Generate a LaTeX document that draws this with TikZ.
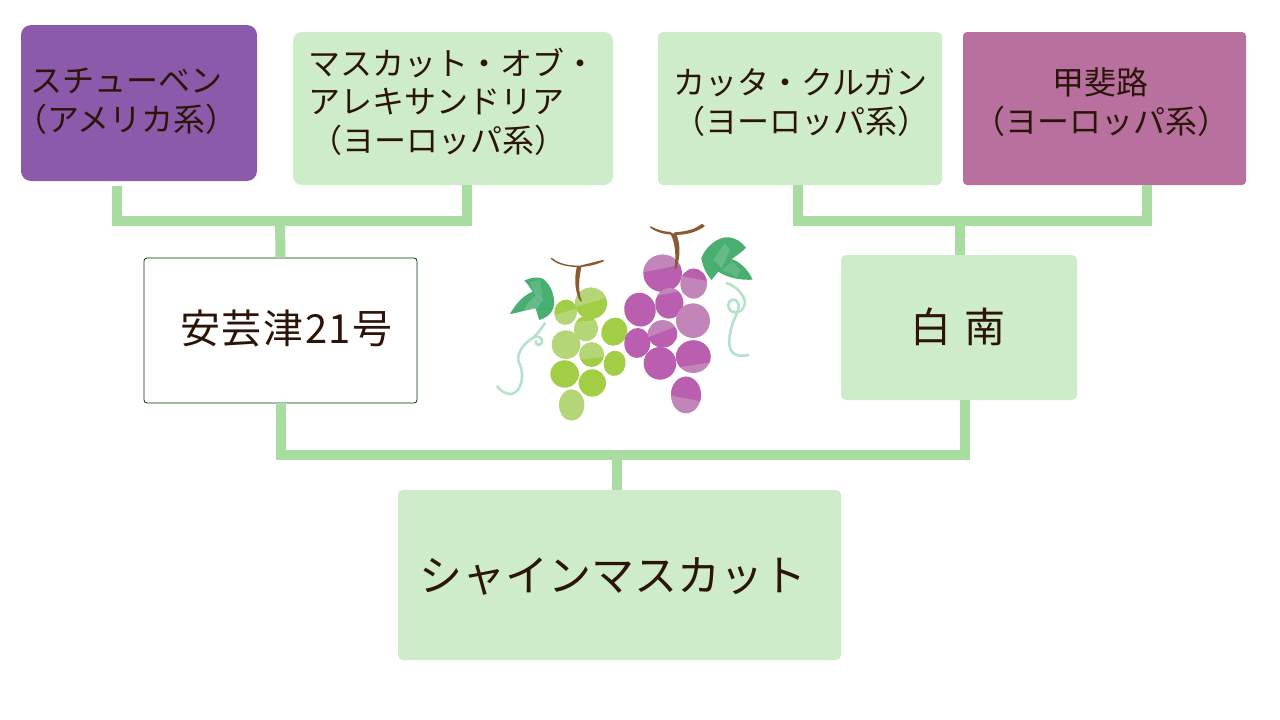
\documentclass[tikz,border=0pt]{standalone}
\usepackage{fontspec}
\setmainfont{Noto Sans CJK JP}
\usetikzlibrary{calc}
\definecolor{ink}{HTML}{2B1408}
\definecolor{mint}{HTML}{CFECCA}
\definecolor{violetbox}{HTML}{8C5AAA}
\definecolor{rosebox}{HTML}{B8719F}
\definecolor{linkgreen}{HTML}{A8DCA0}
\definecolor{leafgreen}{HTML}{48AF70}
\definecolor{leaflight}{HTML}{72C093}
\definecolor{stembrown}{HTML}{8A5A32}
\definecolor{tendril}{HTML}{B4E2CA}
\definecolor{grA}{HTML}{A2CE45}
\definecolor{grB}{HTML}{B4D676}
\definecolor{puA}{HTML}{BA5FB0}
\definecolor{puB}{HTML}{C285B9}
% Centres a block of text in its box, then moves it by (dx, dy) px
\newcommand{\offsettext}[3]{\raisebox{#2pt}[0pt][0pt]{\makebox[0pt]{\hspace*{#1pt}\hspace*{#1pt}\begin{tabular}{@{}l@{}}#3\end{tabular}}}}
% One grape: cx, cy, rx, ry, rotation, body colour, cap colour, cap edge y, edge slope
\newcommand{\grape}[9]{%
  \begin{scope}
    \clip[rotate around={#5:(#1,#2)}] (#1,#2) ellipse [x radius=#3, y radius=#4];
    \fill[#6] (#1-60,#2-60) rectangle (#1+60,#2+60);
    \fill[#7] (#1-60,#8-60*#9) -- (#1+60,#8+60*#9) -- (#1+60,#2-70) -- (#1-60,#2-70) -- cycle;
  \end{scope}}
\tikzset{
  x=1pt, y=-1pt,
  boxbase/.style={inner sep=0pt, text=ink},
  mintbox/.style={boxbase, fill=mint, rounded corners=5pt},
  purplebox/.style={boxbase, fill=violetbox, rounded corners=10pt},
  pinkbox/.style={boxbase, fill=rosebox, rounded corners=4pt},
  whitebox/.style={boxbase, fill=white, draw=black!80!green, line width=0.8pt, rounded corners=3pt},
  link/.style={draw=linkgreen, line width=10pt, line cap=butt, line join=miter},
  curlline/.style={draw=tendril, line width=2.6pt, line cap=round, fill=none},
  stemfill/.style={fill=stembrown, draw=stembrown, line width=1.4pt, line join=round}
}
\begin{document}
\begin{tikzpicture}
\useasboundingbox (0,0) rectangle (1280,720);
\fill[white] (0,0) rectangle (1280,720);

% Junctions of the family tree
\coordinate (leftjoin) at (280,221);
\coordinate (rightjoin) at (960,221);
\coordinate (lowjoin) at (617,455);

% Boxes
\node[purplebox, minimum width=236pt, minimum height=156pt] (steuben) at (139,103)
  {\fontsize{32}{38}\selectfont\offsettext{-12.5}{-8}{\hspace*{15pt}スチューベン\\（アメリカ系）}};
\node[mintbox, rounded corners=9pt, minimum width=320pt, minimum height=153pt] (muscat) at (453,108.5)
  {\fontsize{32}{38}\selectfont\offsettext{-1}{-4}{マスカット・オブ・\\アレキサンドリア\\\hspace*{2pt}（ヨーロッパ系）}};
\node[mintbox, minimum width=284pt, minimum height=153pt] (kattakurgan) at (800,108.5)
  {\fontsize{32}{37}\selectfont\offsettext{1.5}{-4}{カッタ・クルガン\\（ヨーロッパ系）}};
\node[pinkbox, minimum width=283pt, minimum height=153pt] (kaiji) at (1104.5,108.5)
  {\fontsize{32}{38}\selectfont\offsettext{-3}{-4}{\hspace*{79pt}甲斐路\\（ヨーロッパ系）}};
\node[whitebox, minimum width=273pt, minimum height=145pt] (akitsu) at (280.5,330.5)
  {\fontsize{40}{46}\selectfont\addfontfeature{LetterSpace=4}\offsettext{6}{-9}{安芸津21号}};
\node[mintbox, minimum width=236pt, minimum height=145pt] (hakunan) at (959,327.5)
  {\fontsize{41}{46}\selectfont\offsettext{-1}{-11}{白\hspace{14pt}南}};
\node[mintbox, minimum width=443pt, minimum height=170pt] (shine) at (619.5,575)
  {\fontsize{43}{50}\selectfont\offsettext{-7}{-13}{シャインマスカット}};

% Connectors
\draw[link] ([shift={(-22,5)}]steuben.south) |- (leftjoin) -| ([xshift=14pt]muscat.south);
\draw[link] (leftjoin) -- (akitsu.north);
\draw[link] ([xshift=-2pt]kattakurgan.south) |- (rightjoin) -| ([xshift=42.5pt]kaiji.south);
\draw[link] (rightjoin) -- (rightjoin |- hakunan.north);
\draw[link] (akitsu.south) |- (lowjoin) -| ([xshift=6pt]hakunan.south);
\draw[link] (lowjoin) -- (lowjoin |- shine.north);

% Bunches of grapes
\begin{scope}[shift={(480,215)}, x=0.3333pt, y=-0.3333pt]
  % green bunch
  \grape{333}{265}{48}{47}{0}{grA}{grB}{262}{-0.3}
  \grape{257}{292}{34}{38}{-10}{grB}{grA}{290}{-0.3}
  \grape{318}{341}{36}{38}{-10}{grB}{grA}{318}{-0.1}
  \grape{403}{350}{38}{43}{-25}{grA}{grA}{300}{0}
  \grape{258}{389}{43}{43}{0}{grB}{grB}{300}{0}
  \grape{335}{419}{37}{37}{0}{grA}{grB}{430}{-0.1}
  \grape{404}{445}{33}{38}{-10}{grA}{grA}{400}{0}
  \grape{254}{477}{43}{41}{0}{grA}{grA}{400}{0}
  \grape{337}{504}{41}{41}{0}{grA}{grA}{450}{0}
  \grape{275}{570}{38}{47}{0}{grB}{grB}{500}{0}
  % purple bunch
  \grape{548}{175}{58}{56}{0}{puA}{puB}{160}{-0.2}
  \grape{641}{206}{40}{45}{0}{puB}{puA}{190}{0.2}
  \grape{480}{284}{47}{51}{15}{puA}{puA}{200}{0}
  \grape{568}{265}{42}{46}{-10}{puA}{puB}{235}{-0.2}
  \grape{639}{317}{51}{52}{0}{puB}{puB}{250}{0}
  \grape{472}{384}{39}{45}{-5}{puA}{puA}{300}{0}
  \grape{548}{357}{44}{41}{0}{puA}{puB}{350}{-0.4}
  \grape{540}{445}{49}{49}{0}{puA}{puA}{380}{0}
  \grape{640}{425}{52}{49}{0}{puB}{puA}{450}{-0.15}
  \grape{618}{540}{45}{55}{0}{puB}{puA}{550}{0.2}

  % stems
  \fill[stemfill] (214,130) .. controls (240,155) and (310,165) .. (370,137)
    .. controls (345,142) and (320,150) .. (303,153)
    .. controls (296,180) and (290,225) .. (303,258)
    .. controls (285,230) and (285,185) .. (293,155)
    .. controls (265,152) and (235,150) .. (214,130) -- cycle;
  \fill[stemfill] (512,36) .. controls (540,60) and (620,70) .. (672,33)
    .. controls (668,25) and (664,30) .. (660,33)
    .. controls (640,48) and (610,52) .. (585,54)
    .. controls (600,85) and (600,125) .. (586,162)
    .. controls (590,125) and (590,85) .. (572,53)
    .. controls (550,52) and (530,46) .. (512,36) -- cycle;

  % left leaf
  \fill[leafgreen] (133,197) .. controls (150,188) and (175,183) .. (190,192)
    .. controls (215,212) and (228,250) .. (220,280)
    .. controls (212,300) and (195,310) .. (178,315)
    .. controls (172,300) and (170,285) .. (165,278)
    .. controls (140,285) and (115,293) .. (90,297)
    .. controls (105,270) and (130,240) .. (158,230)
    .. controls (150,218) and (142,205) .. (133,197) -- cycle;
  \fill[leaflight, opacity=.7] (130,288) .. controls (140,265) and (160,245) .. (175,238)
    -- (190,250) -- (172,280) -- cycle;
  \fill[leaflight, opacity=.55] (150,203) -- (180,195) -- (190,262) -- (165,240) -- cycle;
  % right leaf
  \fill[leafgreen] (664,130) .. controls (672,105) and (700,75) .. (730,68)
    .. controls (755,63) and (780,75) .. (798,98)
    .. controls (785,112) and (770,122) .. (755,132)
    .. controls (780,140) and (805,165) .. (818,194)
    .. controls (785,196) and (745,190) .. (715,170)
    .. controls (708,178) and (702,187) .. (695,195)
    .. controls (682,182) and (668,155) .. (664,130) -- cycle;
  \fill[leaflight, opacity=.7] (700,135) -- (735,85) -- (750,105) -- (725,160) -- cycle;
  \fill[leaflight, opacity=.55] (725,165) -- (755,140) -- (782,165) -- (772,186) -- cycle;

  % tendrils
  \draw[curlline] (195,325) .. controls (180,345) and (170,360) .. (160,368)
    .. controls (130,385) and (105,420) .. (118,445)
    .. controls (135,480) and (125,530) .. (95,537)
    .. controls (80,538) and (62,530) .. (52,514);
  \draw[curlline] (160,368) .. controls (170,360) and (190,368) .. (186,382)
    .. controls (180,395) and (165,390) .. (168,378);
  \draw[curlline] (740,205) .. controls (765,210) and (795,240) .. (795,265)
    .. controls (790,290) and (765,300) .. (750,285)
    .. controls (735,265) and (755,245) .. (770,258)
    .. controls (785,275) and (770,295) .. (762,315)
    .. controls (745,360) and (740,405) .. (765,418)
    .. controls (780,425) and (795,422) .. (805,420);
\end{scope}
\end{tikzpicture}
\end{document}
